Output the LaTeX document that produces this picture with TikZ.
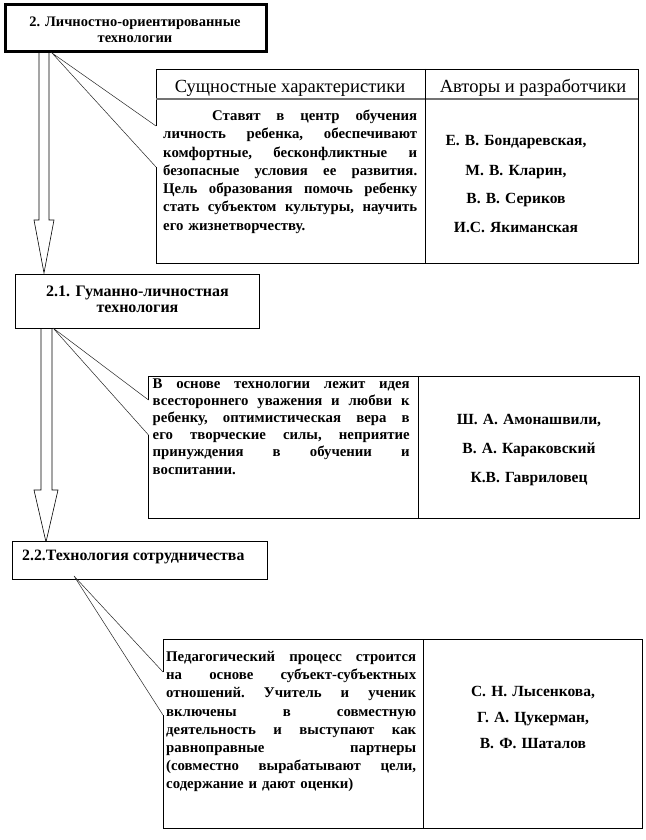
\documentclass[tikz,border=0pt]{standalone}
\usepackage{fontspec}
\setmainfont{Liberation Serif}
\newcommand{\jline}[2]{\leavevmode\hbox to #1{\spaceskip=0.25em plus 1fil\relax #2}\\}
\newcommand{\lline}[2]{\leavevmode\hbox to #1{#2\hfil}}
\frenchspacing
\begin{document}
\frenchspacing
\begin{tikzpicture}[x=1pt,y=-1pt,
  thinline/.style={line width=0.6pt, draw=black},
  calloutline/.style={line width=0.5pt, draw=black!85},
  arrowshape/.style={line width=0.6pt, draw=black, fill=white},
  bodytxt/.style={inner sep=0pt, anchor=base west},
  authtxt/.style={font=\bfseries\fontsize{15.5}{29}\selectfont, inner sep=0pt, anchor=base, align=center, text width=200pt},
  hdrtxt/.style={font=\fontsize{18.5}{20}\selectfont, inner sep=0pt, anchor=base},
  titletxt/.style={inner sep=0pt, anchor=base, align=center, text width=240pt},
  titlebox/.style={draw=black, line width=0.7pt, fill=white, inner sep=0pt}
]
\useasboundingbox (0,0) rectangle (645,840);
\fill[white] (0,0) rectangle (645,840);

% ---------- block arrows ----------
\draw[arrowshape] (39,53) -- (39,220) -- (34,220) -- (44,273) -- (54,220) -- (49,220) -- (49,53);
\draw[arrowshape] (41,328) -- (41,490) -- (34,490) -- (46,542) -- (58,490) -- (52,490) -- (52,328);

% ---------- title boxes ----------
\node[titlebox, line width=3pt, minimum width=261pt, minimum height=47pt] (b1) at (136,28) {};
\node[titletxt, font=\bfseries\fontsize{14.5}{16}\selectfont] (b1t) at (135,27) {2. Личностно-ориентированные\\технологии};

\node[titlebox, minimum width=244pt, minimum height=54pt] (b2) at (137,301) {};
\node[titletxt, font=\bfseries\fontsize{16}{16}\selectfont] (b2t) at (137.5,296.5) {2.1. Гуманно-личностная\\технология};

\node[titlebox, minimum width=255pt, minimum height=38pt] (b3) at (139.5,560) {};
\node[font=\bfseries\fontsize{15.8}{16}\selectfont, inner sep=0pt, anchor=base west] (b3t) at (22,560) {2.2.Технология сотрудничества};

% ---------- callout apexes ----------
\coordinate (a1) at (52,53);
\coordinate (a2) at (53,328);
\coordinate (a3) at (74,576);

% ---------- table 1 ----------
\coordinate (t1n1) at (156,126);
\coordinate (t1n2) at (156,167);
\draw[thinline] (t1n1) -- (156,69) -- (638,69) -- (638,263) -- (156,263) -- (t1n2);
\draw[calloutline] (t1n1) -- (a1) -- (t1n2);
\draw[line width=1.2pt, draw=black!55] (156,99) -- (638,99);
\draw[thinline] (425,69) -- (425,263);
\node[hdrtxt] (h1) at (290,93) {Сущностные характеристики};
\node[hdrtxt] (h2) at (533,93) {Авторы и разработчики};
\node[bodytxt, text width=254pt, font=\bfseries\fontsize{14.8}{18.3}\selectfont] (t1b) at (163,120.5) {%
\jline{254pt}{\hspace*{49pt}Ставят в центр обучения}%
\jline{254pt}{личность ребенка, обеспечивают}%
\jline{254pt}{комфортные, бесконфликтные и}%
\jline{254pt}{безопасные условия ее развития.}%
\jline{254pt}{Цель образования помочь ребенку}%
\jline{254pt}{стать субъектом культуры, научить}%
\lline{254pt}{его жизнетворчеству.}};
\node[authtxt] (t1a) at (516,146) {Е. В. Бондаревская,\\М. В. Кларин,\\В. В. Сериков\\И.С. Якиманская};

% ---------- table 2 ----------
\coordinate (t2n1) at (148.5,400);
\coordinate (t2n2) at (148.5,435);
\draw[thinline] (t2n1) -- (148.5,376) -- (639,376) -- (639,518) -- (148.5,518) -- (t2n2);
\draw[calloutline] (t2n1) -- (a2) -- (t2n2);
\draw[thinline] (418,376) -- (418,518);
\node[bodytxt, text width=257pt, font=\bfseries\fontsize{14.8}{17.2}\selectfont] (t2b) at (152.5,388) {%
\jline{257pt}{В основе технологии лежит идея}%
\jline{257pt}{всестороннего уважения и любви к}%
\jline{257pt}{ребенку, оптимистическая вера в}%
\jline{257pt}{его творческие силы, неприятие}%
\jline{257pt}{принуждения в обучении и}%
\lline{257pt}{воспитании.}};
\node[authtxt] (t2a) at (529,424.5) {Ш. А. Амонашвили,\\В. А. Караковский\\К.В. Гавриловец};

% ---------- table 3 ----------
\coordinate (t3n1) at (163,672);
\coordinate (t3n2) at (163,715);
\draw[thinline] (t3n1) -- (163,639) -- (642,639) -- (642,828) -- (163,828) -- (t3n2);
\draw[calloutline] (t3n1) -- (a3) -- (t3n2);
\draw[thinline] (423,639) -- (423,828);
\node[bodytxt, text width=250pt, font=\bfseries\fontsize{14.8}{18.2}\selectfont] (t3b) at (166,661.5) {%
\jline{250pt}{Педагогический процесс строится}%
\jline{250pt}{на основе субъект-субъектных}%
\jline{250pt}{отношений. Учитель и ученик}%
\jline{250pt}{включены в совместную}%
\jline{250pt}{деятельность и выступают как}%
\jline{250pt}{равноправные партнеры}%
\jline{250pt}{(совместно вырабатывают цели,}%
\lline{250pt}{содержание и дают оценки)}};
\node[authtxt, font=\bfseries\fontsize{15.5}{26}\selectfont] (t3a) at (533,696.5) {С. Н. Лысенкова,\\Г. А. Цукерман,\\В. Ф. Шаталов};
\end{tikzpicture}
\end{document}
